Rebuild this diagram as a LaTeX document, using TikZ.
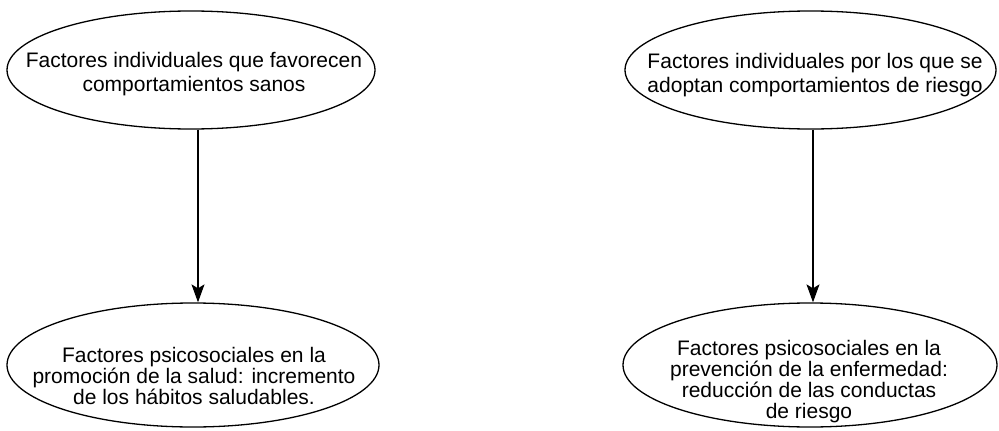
\documentclass[tikz,border=0pt]{standalone}
\usepackage{fontspec}
\setmainfont{Liberation Sans}
\usetikzlibrary{shapes.geometric,arrows.meta}
\begin{document}
\begin{tikzpicture}[x=1pt,y=-1pt,
  oval/.style={draw,ellipse,line width=1.3pt,inner sep=0pt},
  txta/.style={inner sep=0pt,align=center,font=\fontsize{21}{24}\selectfont},
  txtb/.style={inner sep=0pt,align=center,font=\fontsize{21}{21}\selectfont},
  arr/.style={line width=1.2pt,-{Stealth[length=18pt,width=13pt,inset=4pt]}}]
\useasboundingbox (0,0) rectangle (999,431);
\node[oval,minimum width=368pt,minimum height=118pt] (tl) at (191,70) {};
\node[oval,minimum width=371pt,minimum height=118pt] (tr) at (810.5,70) {};
\node[oval,minimum width=372pt,minimum height=124pt] (bl) at (193,365) {};
\node[oval,minimum width=374pt,minimum height=124pt] (br) at (810,365) {};
\node[txta] (tlt) at (194,74.5)
  {Factores individuales que favorecen\\comportamientos sanos};
\node[txta] (trt) at (815,75.5)
  {Factores individuales por los que se\\adoptan comportamientos de riesgo};
\node[txtb] (blt) at (194,376)
  {Factores psicosociales en la\\promoción de la salud: incremento\\de los hábitos saludables.};
\node[txtb] (brt) at (809,382)
  {Factores psicosociales en la\\prevención de la enfermedad:\\reducción de las conductas\\de riesgo};
\coordinate (a1) at (198,0);
\coordinate (a2) at (813,0);
\draw[arr] (tl.south -| a1) -- (bl.north -| a1);
\draw[arr] (tr.south -| a2) -- (br.north -| a2);
\end{tikzpicture}
\end{document}
